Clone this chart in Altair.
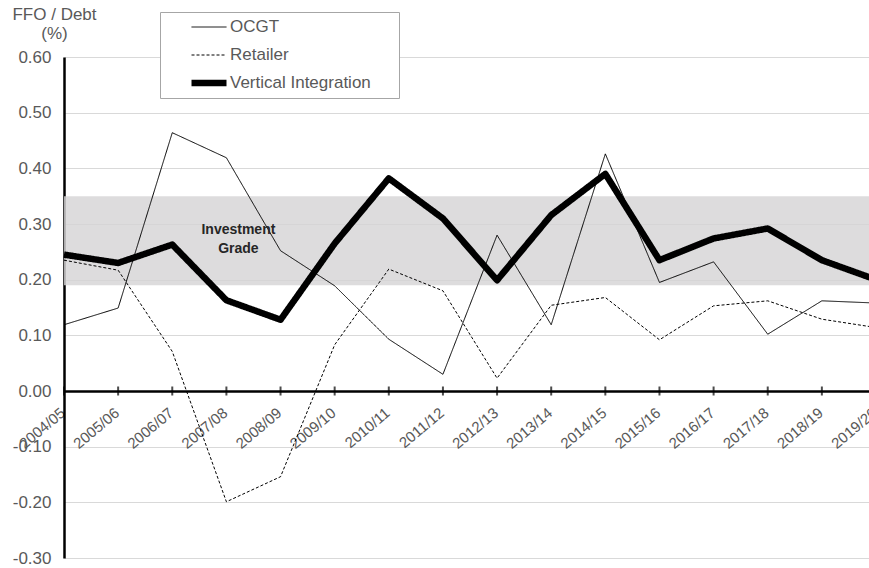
import altair as alt
import pandas as pd

# Financial years on the category axis
years = ["2004/05", "2005/06", "2006/07", "2007/08", "2008/09", "2009/10",
         "2010/11", "2011/12", "2012/13", "2013/14", "2014/15", "2015/16",
         "2016/17", "2017/18", "2018/19", "2019/20"]

# FFO / Debt ratios per business model
ocgt = [0.119, 0.149, 0.464, 0.419, 0.252, 0.189, 0.093, 0.030,
        0.280, 0.119, 0.426, 0.195, 0.232, 0.102, 0.162, 0.158]
retailer = [0.235, 0.217, 0.071, -0.199, -0.154, 0.083, 0.219, 0.180,
            0.023, 0.154, 0.168, 0.092, 0.153, 0.162, 0.129, 0.114]
vertical = [0.245, 0.230, 0.263, 0.163, 0.128, 0.265, 0.382, 0.310,
            0.199, 0.316, 0.390, 0.235, 0.274, 0.292, 0.235, 0.200]

series_names = ["OCGT", "Retailer", "Vertical Integration"]
series_dash = [[1, 0], [3, 2], [1, 0]]
series_width = [1, 1, 6.5]

# Investment grade band (FFO / Debt range)
band_low, band_high = 0.19, 0.35
band_label = "Investment\nGrade"
band_label_year = "2007/08"
band_label_value = 0.289

y_values = [-0.3, -0.2, -0.1, 0.0, 0.1, 0.2, 0.3, 0.4, 0.5, 0.6]

FONT = "Liberation Sans"
GREY = "#595959"

rows = []
for name, vals in zip(series_names, [ocgt, retailer, vertical]):
    for yr, v in zip(years, vals):
        rows.append({"year": yr, "series": name, "value": v})
lines_df = pd.DataFrame(rows)
band_df = pd.DataFrame({"lo": [band_low], "hi": [band_high]})
tick_df = pd.DataFrame({"year": years, "value": [0.0] * len(years)})
note_df = pd.DataFrame({"year": [band_label_year], "value": [band_label_value],
                        "label": [band_label]})

x_scale = alt.Scale(type="point", domain=years, padding=0)
y_scale = alt.Scale(domain=[-0.3, 0.6], nice=False, zero=False)

x_axis = alt.Axis(
    title=None, offset=-167, domainColor="black", domainWidth=2.5,
    ticks=False, grid=False, labelAngle=-40, labelAlign="right",
    labelBaseline="top", labelPadding=14, labelOffset=-6,
    labelFont=FONT, labelFontSize=15,
    labelColor=GREY, labelOverlap=False, labelFlush=False,
)
y_axis = alt.Axis(
    values=y_values, title=["FFO / Debt", "(%)"], titleAngle=0,
    titleAlign="center", titleBaseline="top", titleX=-10, titleY=-51,
    titleFont=FONT, titleFontSize=17, titleFontWeight="normal",
    titleColor=GREY, titleLineHeight=19,
    labelExpr="(datum.value < -0.0001 ? '-' : '') + format(abs(datum.value), '.2f')",
    labelFont=FONT, labelFontSize=17, labelColor=GREY, labelPadding=13,
    ticks=False, domainColor="black", domainWidth=2.5,
    grid=True, gridColor="#d9d9d9", gridWidth=1.2,
)

X = alt.X("year:N", scale=x_scale, axis=x_axis, sort=years)
Y = alt.Y("value:Q", scale=y_scale, axis=y_axis)

# Blank braille cells keep some empty room after each legend label
# (ordinary spaces are trimmed away by the text renderer).
label_tail = "\u2800" * 2
legend = alt.Legend(
    title=None, orient="none", legendX=96, legendY=-45, direction="vertical",
    fillColor="white", strokeColor="#a6a6a6", padding=4,
    symbolType="stroke", symbolSize=1225, symbolOffset=24, labelOffset=0,
    clipHeight=22, rowPadding=6, labelLimit=400,
    labelFont=FONT, labelFontSize=17, labelColor=GREY,
    labelExpr="datum.label + '" + label_tail + "'",
)

band = alt.Chart(band_df).mark_rect(color="#d6d4d5", opacity=0.82).encode(
    y=alt.Y("lo:Q", scale=y_scale, axis=y_axis),
    y2="hi:Q",
)

lines = alt.Chart(lines_df).mark_line(strokeJoin="round").encode(
    x=X,
    y=Y,
    color=alt.Color("series:O", scale=alt.Scale(type="ordinal", domain=series_names,
                    range=["black"] * 3), legend=legend),
    strokeDash=alt.StrokeDash("series:O", scale=alt.Scale(type="ordinal",
                              domain=series_names, range=series_dash), legend=legend),
    strokeWidth=alt.StrokeWidth("series:O", scale=alt.Scale(type="ordinal",
                                domain=series_names, range=series_width), legend=legend),
    detail="series:N",
)

ticks = alt.Chart(tick_df).mark_tick(
    orient="vertical", size=9, thickness=2, color="black"
).encode(x=X, y=Y)

note = alt.Chart(note_df).mark_text(
    font=FONT, fontSize=14, fontWeight="bold", color="#262626",
    lineBreak="\n", lineHeight=19, align="center", baseline="middle", dx=12,
).encode(x=X, y=Y, text="label:N")

chart = alt.layer(band, lines, ticks, note).properties(
    width=812, height=501,
    autosize=alt.AutoSizeParams(type="none"),
    padding={"left": 64, "top": 57, "right": -7, "bottom": 10},
    background="white",
).configure_view(stroke=None)

chart.save("out.html", embed_options={"renderer": "svg", "actions": False})
